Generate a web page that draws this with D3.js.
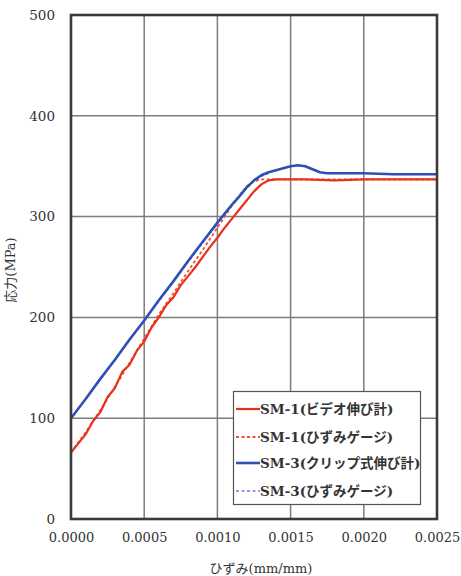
<!DOCTYPE html>
<html>
<head>
<meta charset="utf-8">
<script src="https://cdn.jsdelivr.net/npm/d3@7/dist/d3.min.js"></script>
<style>
  html, body { margin: 0; padding: 0; background: #fff; }
  svg { display: block; }
  text { font-family: "DejaVu Serif", "Noto Sans CJK JP", serif; fill: #333; }
</style>
</head>
<body>
<svg id="chart" width="461" height="576"></svg>
<script>
// Strain (mm/mm) and stress (MPa) for each measurement
const sm1VideoStrain = [0, 0.00005, 0.0001, 0.00015, 0.0002, 0.00025, 0.0003, 0.00035, 0.0004, 0.00045, 0.0005, 0.00055, 0.0006, 0.00065, 0.0007, 0.00075, 0.0008, 0.00085, 0.0009, 0.00095, 0.001, 0.00105, 0.0011, 0.00115, 0.0012, 0.00125, 0.0013, 0.00135, 0.0014, 0.0016, 0.0018, 0.002, 0.0022, 0.0025];
const sm1VideoStress = [66, 75, 84, 97, 106, 121, 130, 146, 153, 167, 176, 190, 200, 212, 220, 232, 241, 250, 260, 270, 279, 289, 298, 307, 316, 325, 332, 336, 337, 337, 336, 337, 337, 337];

const sm1GaugeStrain = [0, 0.0001, 0.0002, 0.0003, 0.0004, 0.0005, 0.0006, 0.0007, 0.0008, 0.0009, 0.001, 0.00105, 0.0011, 0.00115, 0.0012, 0.00125, 0.0013, 0.00135, 0.0018, 0.0025];
const sm1GaugeStress = [66, 86, 108, 131, 155, 179, 203, 224, 246, 267, 289, 300, 311, 321, 330, 335, 337, 337, 337, 337];

const sm3ClipStrain = [0, 0.0001, 0.0002, 0.0003, 0.0004, 0.0005, 0.0006, 0.0007, 0.0008, 0.0009, 0.001, 0.00105, 0.0011, 0.00115, 0.0012, 0.00125, 0.0013, 0.00135, 0.0014, 0.00145, 0.0015, 0.00155, 0.0016, 0.00165, 0.0017, 0.00175, 0.0018, 0.002, 0.0022, 0.0025];
const sm3ClipStress = [100, 119, 139, 158, 178, 197, 217, 236, 256, 275, 294, 303, 312, 320, 329, 336, 341, 344, 346, 348, 350, 351, 350, 347, 344, 343, 343, 343, 342, 342];

const sm3GaugeStrain = [0, 0.0002, 0.0004, 0.0006, 0.0008, 0.001, 0.0011, 0.0012, 0.00125, 0.0013, 0.00135];
const sm3GaugeStress = [100, 138, 177, 216, 255, 293, 311, 328, 335, 340, 343];

const xTicks = [0, 0.0005, 0.001, 0.0015, 0.002, 0.0025];
const yTicks = [0, 100, 200, 300, 400, 500];

const seriesNames = ["SM-1(ビデオ伸び計)", "SM-1(ひずみゲージ)", "SM-3(クリップ式伸び計)", "SM-3(ひずみゲージ)"];

const series = [
  { name: seriesNames[1], x: sm1GaugeStrain, y: sm1GaugeStress, color: "#f0502e", width: 1.8, dash: "3,2.5" },
  { name: seriesNames[3], x: sm3GaugeStrain, y: sm3GaugeStress, color: "#6a7ee0", width: 1.4, dash: "3,2.5" },
  { name: seriesNames[0], x: sm1VideoStrain, y: sm1VideoStress, color: "#e8311d", width: 2.2, dash: null },
  { name: seriesNames[2], x: sm3ClipStrain, y: sm3ClipStress, color: "#2f4fb5", width: 2.6, dash: null }
];
const legendOrder = [2, 0, 3, 1];

const svg = d3.select("#chart");
const plotL = 71, plotR = 437, plotT = 15, plotB = 519;

const x = d3.scaleLinear().domain([0, 0.0025]).range([plotL, plotR]);
const y = d3.scaleLinear().domain([0, 500]).range([plotB, plotT]);

// grid
const grid = svg.append("g").attr("stroke", "#7d7d7d").attr("stroke-width", 1.5);
grid.selectAll("line.v").data(xTicks.slice(1, -1)).join("line")
  .attr("x1", d => x(d)).attr("x2", d => x(d)).attr("y1", plotT).attr("y2", plotB);
grid.selectAll("line.h").data(yTicks.slice(1, -1)).join("line")
  .attr("y1", d => y(d)).attr("y2", d => y(d)).attr("x1", plotL).attr("x2", plotR);

// data lines
const line = d3.line().x(d => x(d[0])).y(d => y(d[1]));
series.forEach(s => {
  svg.append("path")
    .datum(s.x.map((v, i) => [v, s.y[i]]))
    .attr("d", line)
    .attr("fill", "none")
    .attr("stroke", s.color)
    .attr("stroke-width", s.width)
    .attr("stroke-linejoin", "round")
    .attr("stroke-dasharray", s.dash);
});

// frame
svg.append("rect").attr("x", plotL).attr("y", plotT).attr("width", plotR - plotL).attr("height", plotB - plotT)
  .attr("fill", "none").attr("stroke", "#3a3a3a").attr("stroke-width", 2.6);

// axes
const xAxis = svg.append("g").attr("transform", `translate(0,${plotB})`)
  .call(d3.axisBottom(x).tickValues(xTicks).tickFormat(d3.format(".4f")).tickSize(0).tickPadding(14));
xAxis.select(".domain").remove();
xAxis.selectAll("text").attr("font-size", 13).attr("fill", "#333")
  .attr("font-family", "DejaVu Serif, serif");

const yAxis = svg.append("g").attr("transform", `translate(${plotL},0)`)
  .call(d3.axisLeft(y).tickValues(yTicks).tickFormat(d3.format("d")).tickSize(0).tickPadding(16));
yAxis.select(".domain").remove();
yAxis.selectAll("text").attr("font-size", 13.5).attr("fill", "#333")
  .attr("font-family", "DejaVu Serif, serif");

// axis titles
svg.append("text").attr("x", 261).attr("y", 573).attr("text-anchor", "middle")
  .attr("font-size", 13).text("ひずみ(mm/mm)");
svg.append("text").attr("transform", "translate(15,270) rotate(-90)").attr("text-anchor", "middle")
  .attr("font-size", 13).text("応力(MPa)");

// legend
const lg = svg.append("g");
lg.append("rect").attr("x", 233.5).attr("y", 391.5).attr("width", 187).attr("height", 113)
  .attr("fill", "#fff").attr("stroke", "#555").attr("stroke-width", 1.2);
const rowY = [409, 437, 463, 491];
legendOrder.forEach((si, i) => {
  const s = series[si];
  lg.append("line").attr("x1", 236).attr("x2", 260).attr("y1", rowY[i]).attr("y2", rowY[i])
    .attr("stroke", s.color).attr("stroke-width", s.width).attr("stroke-dasharray", s.dash);
  lg.append("text").attr("x", 260).attr("y", rowY[i] + 5).attr("font-size", 13.5)
    .attr("font-weight", "bold").attr("fill", "#444").text(s.name);
});
</script>
</body>
</html>
